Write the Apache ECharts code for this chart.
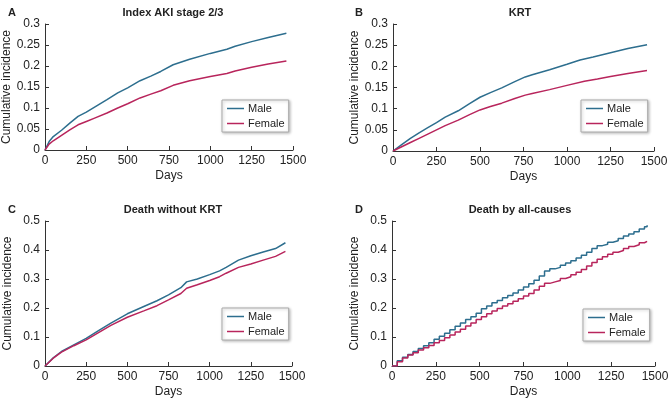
<!DOCTYPE html>
<html><head><meta charset="utf-8">
<script src="https://cdn.jsdelivr.net/npm/echarts@6/dist/echarts.min.js"></script>
<style>html,body{margin:0;padding:0;background:#fff}#c{width:669px;height:400px}</style>
</head><body><div id="c"></div>
<script>
// ----- Data (days, cumulative incidence) -----
const aMale = [[0,0],[25,0.02],[50,0.032],[100,0.047],[150,0.064],[200,0.08],[250,0.09],[300,0.102],[375,0.12],[440,0.136],[500,0.148],[575,0.165],[640,0.176],[700,0.187],[775,0.203],[875,0.216],[1000,0.23],[1100,0.24],[1150,0.247],[1250,0.258],[1350,0.268],[1460,0.278]];
const aFemale = [[0,0],[25,0.014],[50,0.022],[100,0.035],[150,0.048],[200,0.06],[250,0.068],[300,0.076],[375,0.088],[440,0.1],[500,0.11],[575,0.124],[640,0.133],[700,0.141],[775,0.154],[875,0.165],[1000,0.175],[1100,0.182],[1150,0.188],[1250,0.197],[1350,0.205],[1460,0.212]];
const bMale = [[0,0],[50,0.015],[100,0.03],[150,0.043],[200,0.055],[250,0.067],[300,0.08],[375,0.095],[440,0.112],[500,0.127],[560,0.138],[625,0.149],[700,0.164],[760,0.175],[800,0.18],[900,0.192],[1000,0.205],[1075,0.215],[1150,0.222],[1250,0.232],[1350,0.242],[1460,0.251]];
const bFemale = [[0,0],[50,0.01],[100,0.02],[150,0.03],[200,0.04],[250,0.05],[300,0.06],[375,0.073],[440,0.086],[500,0.097],[560,0.105],[625,0.113],[700,0.124],[760,0.132],[800,0.136],[900,0.145],[1000,0.155],[1100,0.165],[1175,0.17],[1250,0.176],[1350,0.183],[1460,0.19]];
const cMale = [[0,0],[50,0.028],[100,0.05],[175,0.073],[250,0.095],[325,0.122],[400,0.148],[500,0.18],[600,0.205],[680,0.225],[750,0.245],[825,0.27],[860,0.29],[925,0.3],[1000,0.315],[1060,0.328],[1100,0.34],[1175,0.365],[1250,0.38],[1325,0.393],[1400,0.405],[1460,0.425]];
const cFemale = [[0,0],[50,0.027],[100,0.048],[175,0.07],[250,0.09],[325,0.115],[400,0.14],[500,0.168],[600,0.19],[680,0.208],[750,0.228],[825,0.25],[860,0.268],[925,0.28],[1000,0.295],[1060,0.308],[1100,0.32],[1175,0.34],[1250,0.352],[1325,0.365],[1400,0.378],[1460,0.395]];
const dDays = [0,30,60,90,120,150,180,210,240,270,300,330,360,390,420,450,480,510,540,570,600,630,660,690,720,750,780,810,840,870,900,930,960,990,1020,1050,1080,1110,1140,1170,1200,1230,1260,1290,1320,1350,1380,1410,1440,1455];
const dMale = [0,0.018,0.03,0.04,0.05,0.06,0.07,0.08,0.092,0.103,0.113,0.125,0.137,0.148,0.16,0.17,0.182,0.197,0.207,0.218,0.226,0.235,0.243,0.252,0.262,0.272,0.284,0.296,0.31,0.328,0.335,0.34,0.347,0.355,0.363,0.372,0.382,0.392,0.405,0.415,0.42,0.427,0.432,0.44,0.448,0.455,0.463,0.472,0.48,0.485];
const dFemale = [0,0.015,0.028,0.038,0.046,0.055,0.063,0.071,0.08,0.088,0.097,0.107,0.117,0.127,0.138,0.148,0.16,0.17,0.18,0.19,0.198,0.207,0.215,0.223,0.232,0.241,0.25,0.262,0.275,0.285,0.29,0.295,0.302,0.308,0.315,0.323,0.333,0.345,0.357,0.368,0.377,0.385,0.392,0.398,0.405,0.412,0.418,0.425,0.43,0.43];
const xTicks = [0,250,500,750,1000,1250,1500];
const titles = ['Index AKI stage 2/3','KRT','Death without KRT','Death by all-causes'];
const letters = ['A','B','C','D'];
const yMax = [0.3,0.3,0.5,0.5];
const yStep = [0.05,0.05,0.1,0.1];

const MALE = '#2d6e8e', FEMALE = '#b8255c';
const FONT = 'Liberation Sans';
const grids = [
  {left:45, right:376, top:24, bottom:250},
  {left:393, right:15, top:24, bottom:249},
  {left:45, right:377, top:221, bottom:34},
  {left:392, right:14, top:221, bottom:34}
].map(g=>Object.assign(g,{containLabel:false, outerBoundsMode:'none'}));
const legendPos = [
  {left:222, top:100},{left:581, top:100},{left:222, top:308},{left:583, top:309}
];
const titlePos = [[168,2],[515,2],[168,199],[515,199]];
const letterPos = [[3,2],[350,2],[3,199],[350,199]];
const zip = (xs, ys) => xs.map((x,i)=>[x, ys[i]]);
const pairs = [[aMale,aFemale],[bMale,bFemale],[cMale,cFemale],[zip(dDays,dMale),zip(dDays,dFemale)]];

const option = {
  animation:false,
  textStyle:{fontFamily:FONT},
  title: titles.map((t,i)=>({text:t, left:titlePos[i][0], top:titlePos[i][1], textAlign:'center',
      textStyle:{fontSize:11, fontWeight:'bold', color:'#222', fontFamily:FONT}}))
    .concat(letters.map((t,i)=>({text:t, left:letterPos[i][0], top:letterPos[i][1],
      textStyle:{fontSize:11, fontWeight:'bold', color:'#222', fontFamily:FONT}}))),
  grid: grids,
  legend: legendPos.map((p,i)=>({
    left:p.left, top:p.top, orient:'vertical', icon:'rect', itemWidth:17, itemHeight:1.5, itemGap:4,
    padding:[3,4,3,5], backgroundColor:'#fff', borderColor:'#aaa', borderWidth:1,
    shadowColor:'rgba(0,0,0,0.25)', shadowBlur:3, shadowOffsetX:1, shadowOffsetY:1,
    textStyle:{fontSize:11, color:'#222', fontFamily:FONT, padding:[0,0,0,-1]},
    data:['Male','Female']
  })),
  xAxis: grids.map((g,i)=>({
    type:'value', gridIndex:i, min:0, max:1500, interval:250,
    name:'Days', nameLocation:'middle', nameGap:20,
    nameTextStyle:{fontSize:12, color:'#222', fontFamily:FONT},
    axisLine:{lineStyle:{color:'#333', width:1}},
    axisTick:{inside:true, length:4, lineStyle:{color:'#333'}},
    axisLabel:{fontSize:12, color:'#222', margin:5, fontFamily:FONT, formatter:v=>String(v)},
    splitLine:{show:false}
  })),
  yAxis: grids.map((g,i)=>({
    type:'value', gridIndex:i, min:0, max:yMax[i], interval:yStep[i],
    name:'Cumulative incidence', nameLocation:'middle', nameGap:31,
    nameTextStyle:{fontSize:12, color:'#222', fontFamily:FONT},
    axisLine:{show:true, lineStyle:{color:'#333', width:1}},
    axisTick:{show:true, inside:true, length:4, lineStyle:{color:'#333'}},
    axisLabel:{fontSize:12, color:'#222', margin:5, fontFamily:FONT, formatter:v=>String(+v.toFixed(2))},
    splitLine:{show:false}
  })),
  series: pairs.flatMap((p,i)=>[
    {name:'Male', type:'line', xAxisIndex:i, yAxisIndex:i, data:p[0], showSymbol:false, step:i===3?'end':false,
      lineStyle:{color:MALE, width:1.5}, itemStyle:{color:MALE}},
    {name:'Female', type:'line', xAxisIndex:i, yAxisIndex:i, data:p[1], showSymbol:false, step:i===3?'end':false,
      lineStyle:{color:FEMALE, width:1.5}, itemStyle:{color:FEMALE}}
  ])
};
echarts.init(document.getElementById('c'), null, {renderer:'canvas'}).setOption(option);
</script></body></html>
